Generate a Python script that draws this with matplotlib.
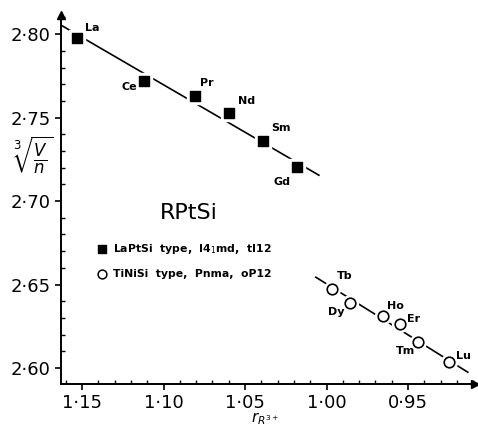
import matplotlib.pyplot as plt
from matplotlib.ticker import FuncFormatter, MultipleLocator

# LaPtSi type (filled squares)
sq_names = ['La', 'Ce', 'Pr', 'Nd', 'Sm', 'Gd']
sq_r = [1.153, 1.112, 1.081, 1.060, 1.039, 1.018]
sq_v = [2.7976, 2.7719, 2.7629, 2.7527, 2.7359, 2.7203]

# TiNiSi type (open circles)
ci_names = ['Tb', 'Dy', 'Ho', 'Er', 'Tm', 'Lu']
ci_r = [0.9968, 0.9857, 0.9655, 0.9551, 0.9440, 0.9250]
ci_v = [2.6473, 2.6389, 2.6311, 2.6263, 2.6155, 2.6035]

# fitted lines (end points)
line1_r = [1.1629, 1.0047]
line1_v = [2.8054, 2.7155]
line2_r = [1.0066, 0.9134]
line2_v = [2.6544, 2.5975]

# label offsets in points
sq_off = [(6, 4), (-16, -8), (4, 6), (7, 5), (6, 6), (-17, -14)]
ci_off = [(4, 6), (-16, -10), (3, 4), (5, 0), (-16, -10), (5, 1)]

fig = plt.figure(figsize=(4.78, 4.32), dpi=100)
ax = fig.add_axes([0.1276, 0.111, 0.866, 0.854])

ax.plot(line1_r, line1_v, color='black', lw=1.2, zorder=1)
ax.plot(line2_r, line2_v, color='black', lw=1.2, zorder=1)

# white halos make gaps in the line around the markers
ax.scatter(sq_r, sq_v, marker='s', s=140, color='white', zorder=2)
ax.scatter(ci_r, ci_v, marker='o', s=130, color='white', zorder=2)
ax.scatter(sq_r, sq_v, marker='s', s=60, color='black', zorder=3)
ax.scatter(ci_r, ci_v, marker='o', s=58, facecolor='white', edgecolor='black',
           linewidths=1.2, zorder=3)

for name, r, v, off in zip(sq_names, sq_r, sq_v, sq_off):
    ax.annotate(name, (r, v), xytext=off, textcoords='offset points',
                fontsize=8, fontweight='bold', va='bottom', ha='left')
for name, r, v, off in zip(ci_names, ci_r, ci_v, ci_off):
    ax.annotate(name, (r, v), xytext=off, textcoords='offset points',
                fontsize=8, fontweight='bold', va='bottom', ha='left')

ax.text(1.0844, 2.6928, 'RPtSi', fontsize=16, ha='center', va='center')
ax.scatter([1.1377], [2.6712], marker='s', s=40, color='black')
ax.text(1.131, 2.6712, r'LaPtSi  type,  I4$_1$md,  tI12', fontsize=7.8,
        fontweight='bold', va='center')
ax.scatter([1.1377], [2.6562], marker='o', s=40, facecolor='white',
           edgecolor='black', linewidths=1.1)
ax.text(1.131, 2.6562, 'TiNiSi  type,  Pnma,  oP12', fontsize=7.8,
        fontweight='bold', va='center')

ax.set_xlim(1.1629, 0.909)
ax.set_ylim(2.5904, 2.8114)

ax.xaxis.set_major_locator(MultipleLocator(0.05))
ax.xaxis.set_minor_locator(MultipleLocator(0.01))
ax.yaxis.set_major_locator(MultipleLocator(0.05))
ax.yaxis.set_minor_locator(MultipleLocator(0.01))
ax.xaxis.set_major_formatter(FuncFormatter(lambda x, p: f'{x:.2f}'.replace('.', '·')))
ax.yaxis.set_major_formatter(FuncFormatter(lambda y, p: f'{y:.2f}'.replace('.', '·')))
ax.tick_params(which='major', direction='out', length=4, width=1.2, labelsize=13)
ax.tick_params(which='minor', direction='in', length=3, width=1)

for s in ['top', 'right']:
    ax.spines[s].set_visible(False)
for s in ['left', 'bottom']:
    ax.spines[s].set_linewidth(1.4)

ax.plot(1, 0, '>', color='black', ms=6, transform=ax.transAxes, clip_on=False)
ax.plot(0, 1, '^', color='black', ms=6, transform=ax.transAxes, clip_on=False)

fig.text(0.07, 0.641, r'$\sqrt[3]{\frac{V}{n}}$', fontsize=17, ha='center', va='center')
fig.text(0.555, 0.03, r'$r_{R^{3+}}$', fontsize=11, ha='center', va='center')

fig.savefig('out.png', dpi=100)
